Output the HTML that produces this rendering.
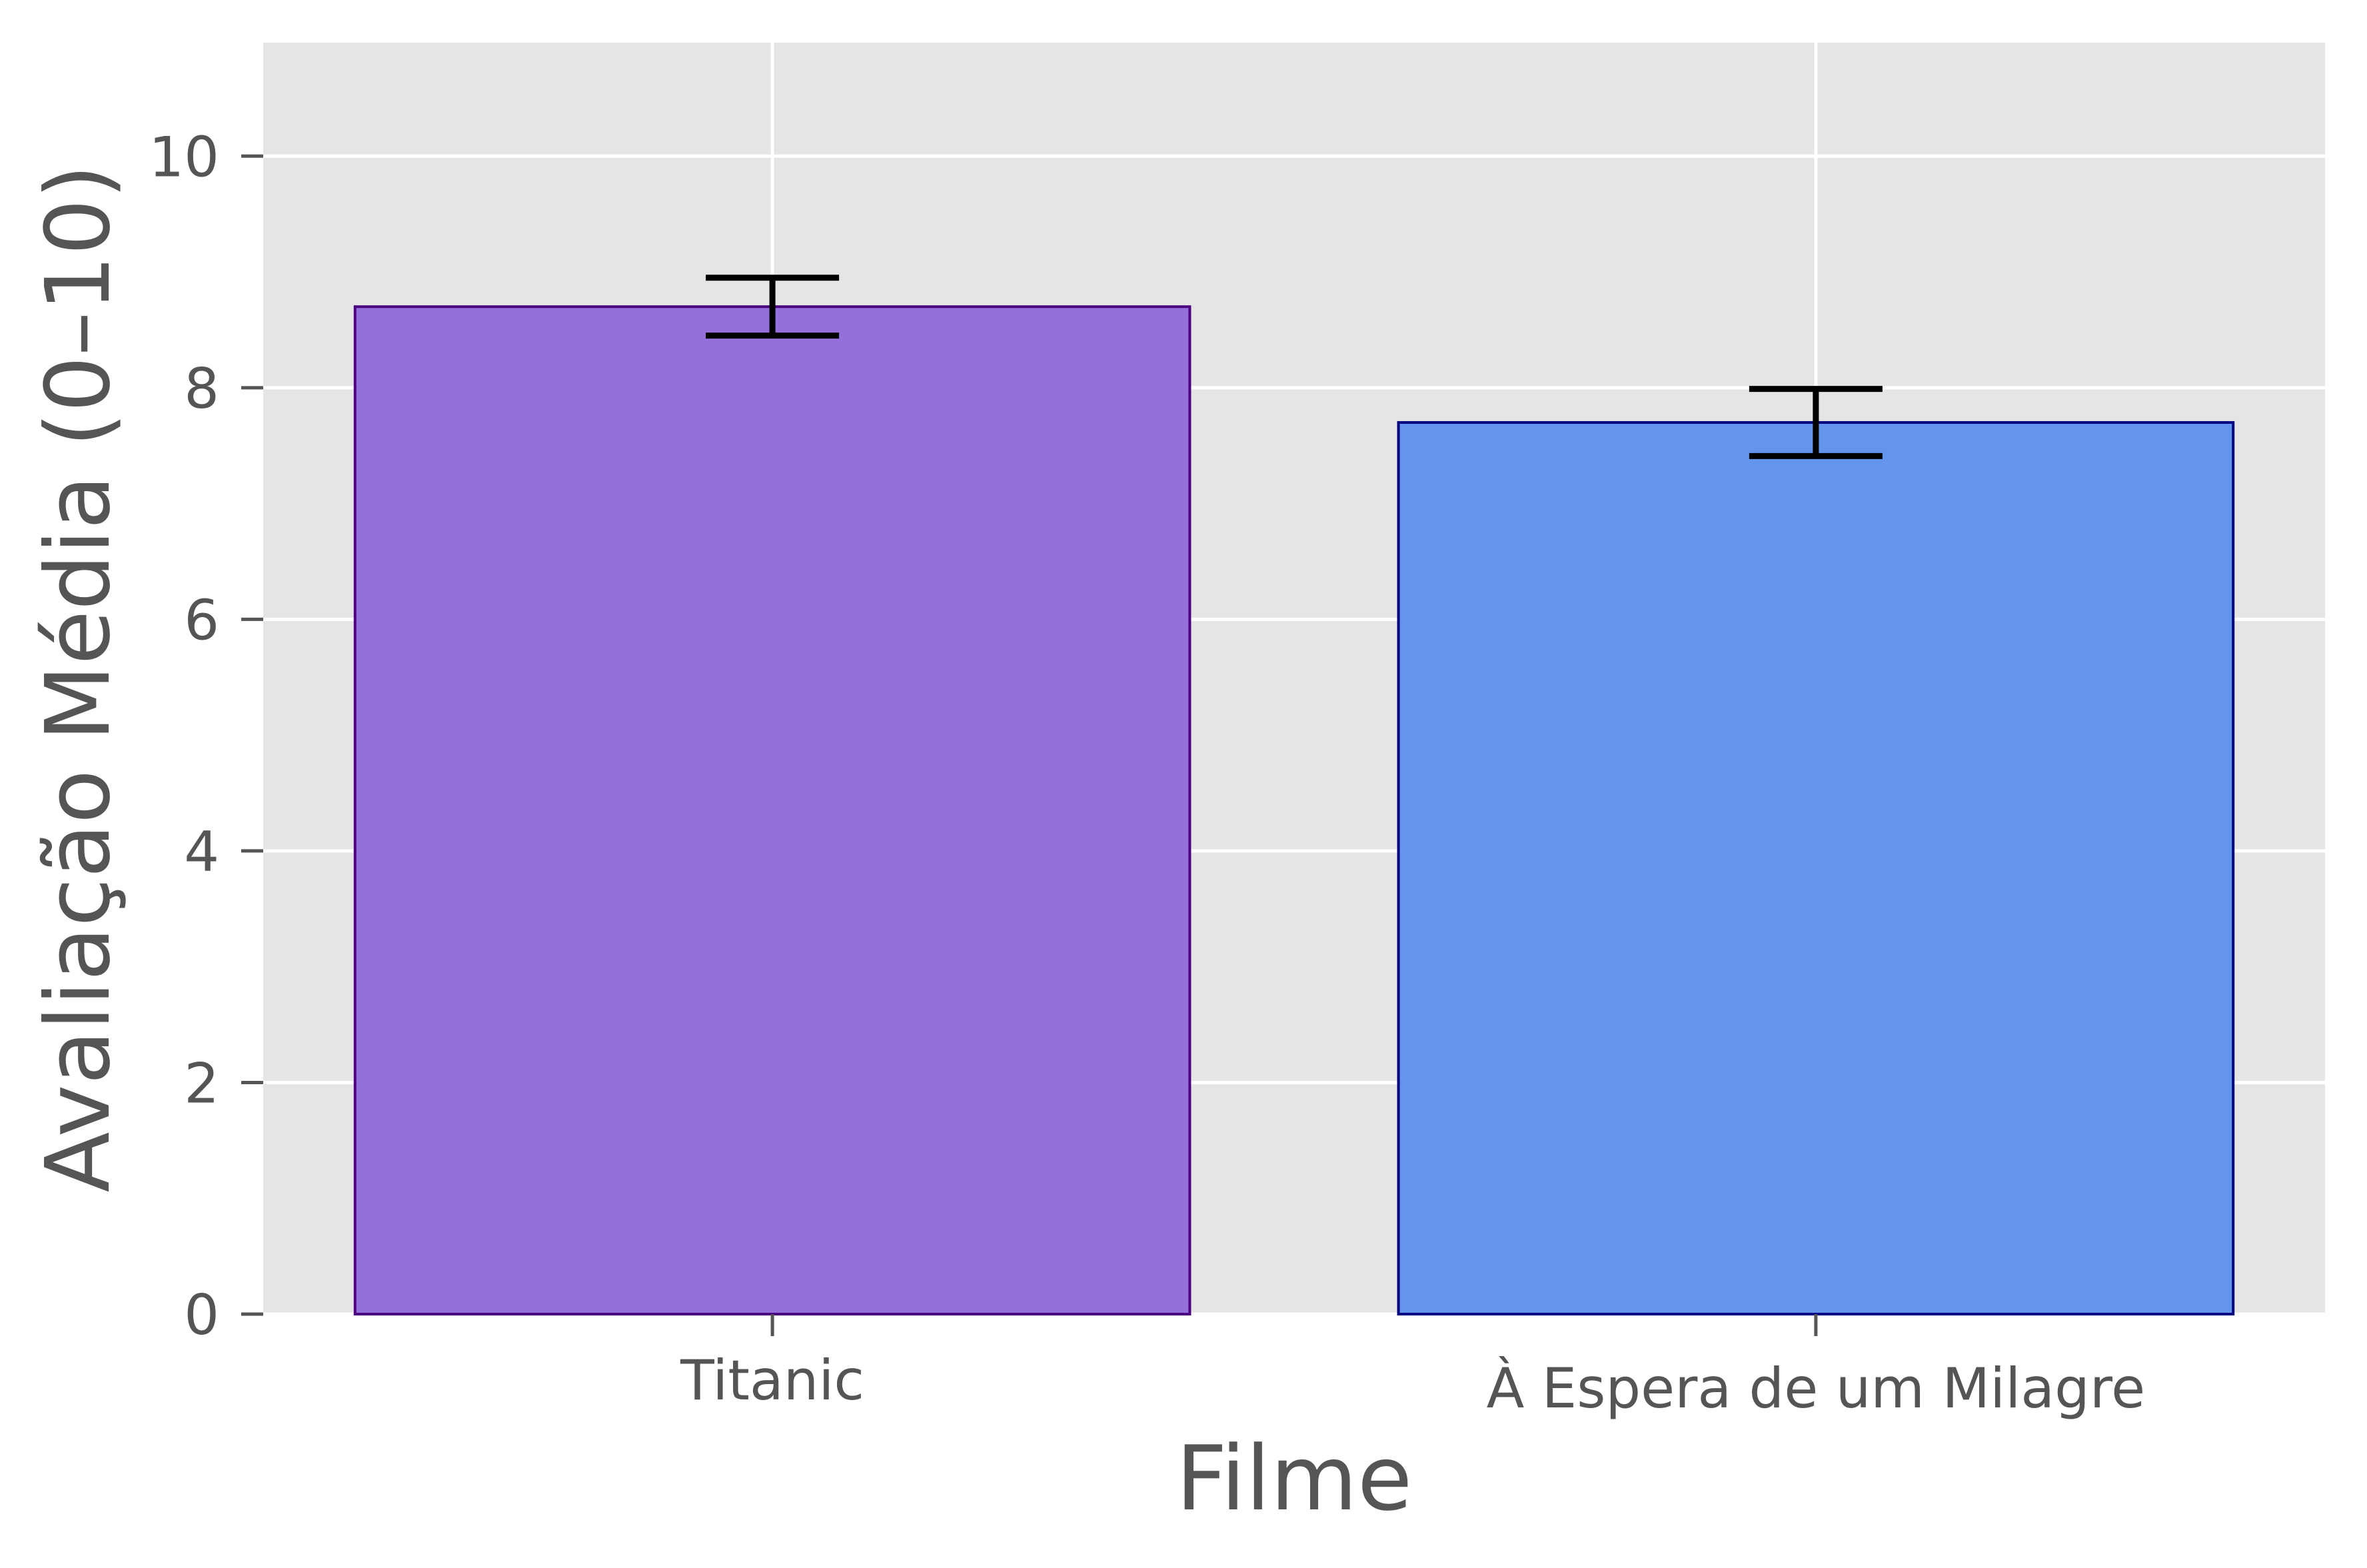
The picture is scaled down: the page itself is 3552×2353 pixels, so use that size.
<!DOCTYPE html>
<html><head><meta charset="utf-8"><style>
html,body{margin:0;padding:0;background:#fff}
svg{display:block}
text{font-family:"DejaVu Sans","Liberation Sans",sans-serif;fill:#555}
</style></head><body>
<svg id="chart" width="3552" height="2353" viewBox="0 0 3552 2353" xmlns="http://www.w3.org/2000/svg">
<rect x="395" y="64" width="3094" height="1908" fill="#E5E5E5"/>
<g id="grid"></g>
<g id="bars"></g>
<g id="errs"></g>
<g id="axes"></g>
<text x="1942" y="2265" font-size="134" text-anchor="middle">Filme</text>
<text transform="translate(163,1018) rotate(-90)" font-size="133" text-anchor="middle">Avaliação Média (0–10)</text>
</svg>
<script>
const categories = ["Titanic", "À Espera de um Milagre"];
const values = [8.7, 7.7];
const errors = [0.25, 0.29];
const yTicks = [0, 2, 4, 6, 8, 10];
const yTickLabels = ["0", "2", "4", "6", "8", "10"];

const PL = 395, PR = 3489, PT = 64, PB = 1972;
const XMIN = -0.488, XMAX = 1.488, YMIN = 0, YMAX = 10.98;
const fills = ["#9370DB", "#6495ED"], edges = ["#4B0082", "#000080"];
const NS = "http://www.w3.org/2000/svg";
function xs(v){ return PL + (v - XMIN) / (XMAX - XMIN) * (PR - PL); }
function ys(v){ return PB - (v - YMIN) / (YMAX - YMIN) * (PB - PT); }
function mk(tag, attrs, parent){
  const e = document.createElementNS(NS, tag);
  for (const k in attrs) e.setAttribute(k, attrs[k]);
  document.getElementById(parent).appendChild(e);
  return e;
}
const bw = 0.8;
yTicks.forEach((t, i) => {
  const g = mk("line", {x1: PL, x2: PR, y1: ys(t), y2: ys(t), stroke: "#fff", "stroke-width": 5}, "grid");
  
  
  const tk = mk("line", {x1: PL - 33, x2: PL, y1: ys(t), y2: ys(t), stroke: "#555", "stroke-width": 5}, "axes");
  
  
  const lb = mk("text", {x: 329, y: ys(t) + 30, "font-size": 83, "text-anchor": "end"}, "axes");
  lb.textContent = yTickLabels[i];
  
  
});
categories.forEach((c, i) => {
  const g = mk("line", {x1: xs(i), x2: xs(i), y1: PT, y2: PB, stroke: "#fff", "stroke-width": 5}, "grid");
  
  
  const b = mk("rect", {x: xs(i - bw/2), y: ys(values[i]), width: xs(i + bw/2) - xs(i - bw/2), height: ys(0) - ys(values[i]), fill: fills[i], stroke: edges[i], "stroke-width": 4}, "bars");
  
  
  const cx = xs(i), hi = ys(values[i] + errors[i]), lo = ys(values[i] - errors[i]);
  const v = mk("line", {x1: cx, x2: cx, y1: hi, y2: lo, stroke: "#000", "stroke-width": 9}, "errs");
  
  
  [hi, lo].forEach(yy => {
    const cap = mk("line", {x1: cx - 100, x2: cx + 100, y1: yy, y2: yy, stroke: "#000", "stroke-width": 9}, "errs");
    
    
  });
  const tk = mk("line", {x1: cx, x2: cx, y1: PB, y2: PB + 33, stroke: "#555", "stroke-width": 5}, "axes");
  
  
  const accented = /[À-ÿ]/.test(c);
  const lb = mk("text", {x: cx, y: accented ? 2112 : 2100, "font-size": 83, "text-anchor": "middle"}, "axes");
  lb.textContent = c;
  
  
});
</script>
</body></html>
